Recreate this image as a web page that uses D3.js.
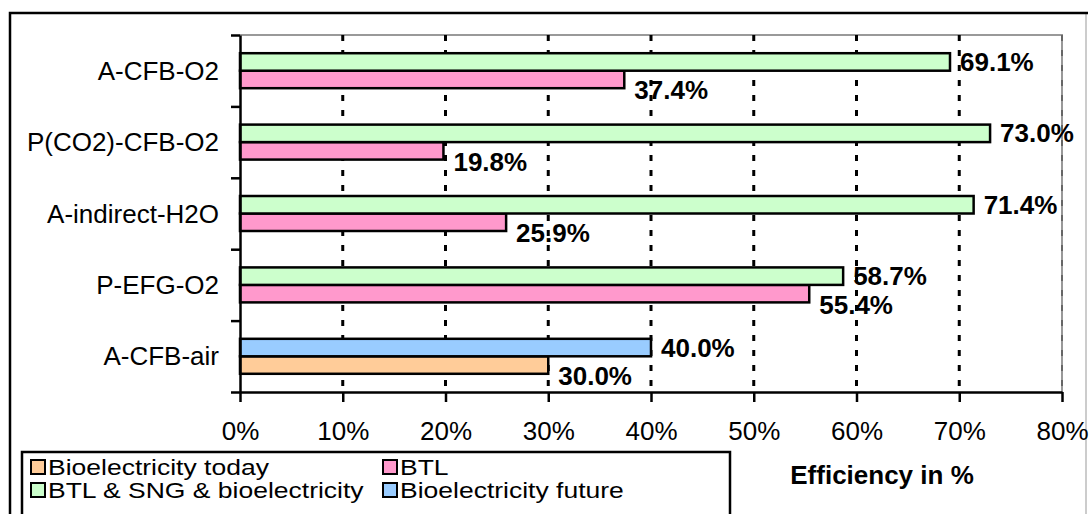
<!DOCTYPE html>
<html>
<head>
<meta charset="utf-8">
<script src="https://cdn.jsdelivr.net/npm/d3@7"></script>
<style>
  html, body { margin: 0; padding: 0; background: #fff; }
  svg { display: block; font-family: "Liberation Sans", Arial, sans-serif; }
</style>
</head>
<body>
<svg id="chart" width="1092" height="514"></svg>
<script>
// Process chains, top to bottom
const categories = ["A-CFB-O2", "P(CO2)-CFB-O2", "A-indirect-H2O", "P-EFG-O2", "A-CFB-air"];

// Efficiency per series (%), null where a chain has no value for that product
const bioToday  = [null, null, null, null, 30.0];
const btl       = [37.4, 19.8, 25.9, 55.4, null];
const btlSng    = [69.1, 73.0, 71.4, 58.7, null];
const bioFuture = [null, null, null, null, 40.0];

const seriesNames  = ["Bioelectricity today", "BTL", "BTL & SNG & bioelectricity", "Bioelectricity future"];
const seriesColors = ["#FFCC99", "#FF99CC", "#CCFFCC", "#99CCFF"];

const xTicks = [0, 10, 20, 30, 40, 50, 60, 70, 80];
const axisTitle = "Efficiency in %";

// Series table: which slot (upper/lower) each series takes inside a category band
const series = [
  { name: seriesNames[0], color: seriesColors[0], values: bioToday,  slot: "lower" },
  { name: seriesNames[1], color: seriesColors[1], values: btl,       slot: "lower" },
  { name: seriesNames[2], color: seriesColors[2], values: btlSng,    slot: "upper" },
  { name: seriesNames[3], color: seriesColors[3], values: bioFuture, slot: "upper" }
];

const svg = d3.select("#chart");
const plot = { left: 240, right: 1062, top: 35, bottom: 392 };

const x = d3.scaleLinear().domain([0, 80]).range([plot.left, plot.right]);
const y = d3.scaleBand().domain(categories).range([plot.top, plot.bottom])
  .paddingInner(0.51).paddingOuter(0.255);
const slot = d3.scaleBand().domain(["upper", "lower"]).range([0, y.bandwidth()]);

// Outer chart frame
svg.append("rect").attr("x", 0).attr("y", 0).attr("width", 1092).attr("height", 514).attr("fill", "#fff");
svg.append("line").attr("x1", 1086).attr("x2", 1086).attr("y1", 13).attr("y2", 514)
  .attr("stroke", "#bbb").attr("stroke-width", 1.5);
svg.append("path").attr("d", "M10,514 V13 H1088").attr("fill", "none")
  .attr("stroke", "#000").attr("stroke-width", 2.5);

// Plot area border (top and right)
svg.append("path")
  .attr("d", `M${plot.left},${plot.top} H${plot.right} V${plot.bottom}`)
  .attr("fill", "none").attr("stroke", "#999").attr("stroke-width", 2);

// Vertical dashed gridlines
svg.append("g").selectAll("line")
  .data(xTicks.filter(t => t > 0))
  .join("line")
  .attr("x1", d => x(d)).attr("x2", d => x(d))
  .attr("y1", plot.top).attr("y2", plot.bottom)
  .attr("stroke", d => d === 80 ? "#666" : "#000")
  .attr("stroke-width", d => d === 80 ? 2 : 3)
  .attr("stroke-dasharray", "6 9");

// Bars
const barData = [];
series.forEach(s => s.values.forEach((v, i) => {
  if (v != null) barData.push({ cat: categories[i], value: v, color: s.color, slot: s.slot });
}));

svg.append("g").selectAll("rect")
  .data(barData)
  .join("rect")
  .attr("x", x(0))
  .attr("y", d => y(d.cat) + slot(d.slot))
  .attr("width", d => x(d.value) - x(0))
  .attr("height", slot.bandwidth())
  .attr("fill", d => d.color)
  .attr("stroke", "#000")
  .attr("stroke-width", 2.5);

// Value labels
svg.append("g").selectAll("text")
  .data(barData)
  .join("text")
  .attr("x", d => x(d.value) + 10)
  .attr("y", d => y(d.cat) + slot(d.slot) + slot.bandwidth() / 2 + (d.slot === "upper" ? 9 : 20))
  .attr("font-size", 26).attr("font-weight", "bold").attr("fill", "#000")
  .text(d => d.value.toFixed(1) + "%");

// Y axis: line with ticks at the category boundaries
const yEdges = d3.scaleLinear().domain([0, categories.length]).range([plot.top, plot.bottom]);
const yAxis = svg.append("g").attr("transform", `translate(${plot.left},0)`)
  .call(d3.axisLeft(yEdges).tickValues(d3.range(categories.length + 1)).tickSize(9).tickSizeOuter(0).tickFormat(""));
yAxis.selectAll("line, path").attr("stroke", "#000").attr("stroke-width", 2.5);

// Category labels
svg.append("g").selectAll("text")
  .data(categories)
  .join("text")
  .attr("x", 219)
  .attr("y", d => y(d) + y.bandwidth() / 2 + 9)
  .attr("text-anchor", "end")
  .attr("font-size", 26).attr("fill", "#000")
  .text(d => d);

// X axis
const xAxis = svg.append("g").attr("transform", `translate(0,${plot.bottom})`)
  .call(d3.axisBottom(x).tickValues(xTicks).tickSize(10).tickSizeOuter(0).tickFormat(d => d + "%"));
xAxis.selectAll("line, path").attr("stroke", "#000").attr("stroke-width", 2.5);
xAxis.selectAll("text")
  .attr("y", 48).attr("dy", null)
  .attr("font-size", 26).attr("font-family", "Liberation Sans, Arial, sans-serif").attr("fill", "#000");

// Axis title
svg.append("text")
  .attr("x", 882).attr("y", 484)
  .attr("text-anchor", "middle")
  .attr("font-size", 26).attr("font-weight", "bold").attr("fill", "#000")
  .text(axisTitle);

// Legend: two columns, two rows, tightly packed condensed-height text
const legend = svg.append("g");
legend.append("rect").attr("x", 22).attr("y", 452).attr("width", 708).attr("height", 80)
  .attr("fill", "#fff").attr("stroke", "#000").attr("stroke-width", 2.5);
const legendPos = [
  { col: 0, row: 0 }, { col: 1, row: 0 }, { col: 0, row: 1 }, { col: 1, row: 1 }
];
const colX = [31, 383];
const rowY = [460, 483];
const item = legend.selectAll("g.item")
  .data(series)
  .join("g")
  .attr("class", "item")
  .attr("transform", (d, i) => `translate(${colX[legendPos[i].col]},${rowY[legendPos[i].row]})`);
item.append("rect").attr("width", 14).attr("height", 14)
  .attr("fill", d => d.color).attr("stroke", "#000").attr("stroke-width", 2);
item.append("text")
  .attr("transform", "translate(17,15) scale(1,0.84)")
  .attr("font-size", 26.5).attr("fill", "#000")
  .text(d => d.name);
</script>
</body>
</html>
